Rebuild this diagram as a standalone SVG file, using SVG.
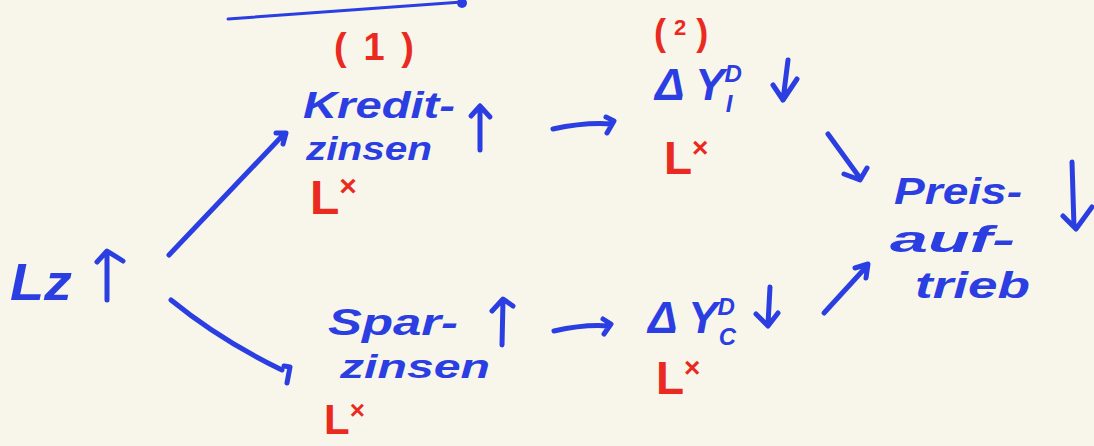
<svg xmlns="http://www.w3.org/2000/svg" width="1094" height="446" viewBox="0 0 1094 446">
<style>
.b{fill:#2b3ee2;font-family:"Liberation Sans",Arial,sans-serif;font-weight:bold;font-style:italic}
.r{fill:#ea2a20;font-family:"Liberation Sans",Arial,sans-serif;font-weight:bold}
.ln{stroke:#2b3ee2;stroke-width:5;fill:none;stroke-linecap:round;stroke-linejoin:round}
.thin{stroke:#2b3ee2;stroke-width:3;fill:none;stroke-linecap:round}
</style>
<rect width="1094" height="446" fill="#f8f5ea"/>
<g id="topline">
<path class="thin" d="M228 19 L462 2"/>
<circle cx="462" cy="3" r="5" fill="#2b3ee2"/>
</g>
<g id="lz">
<text class="b" x="10" y="300" font-size="52" textLength="62" lengthAdjust="spacingAndGlyphs">Lz</text>
<path class="ln" d="M107 300 L107 252 M97 262 L107 251 L123 261"/>
</g>
<g id="kredit">
<text class="r" x="334" y="60" font-size="38" font-weight="normal" textLength="80" lengthAdjust="spacing">(1)</text>
<text class="b" x="303" y="118" font-size="36" textLength="152" lengthAdjust="spacingAndGlyphs">Kredit-</text>
<text class="b" x="306" y="160" font-size="34" textLength="126" lengthAdjust="spacingAndGlyphs">zinsen</text>
<path class="ln" d="M480 150 L480 107 M471 116 L480 106 M480 106 L490 117"/>
<text class="r" x="310" y="214" font-size="48">L<tspan font-size="30" dy="-18">×</tspan></text>
</g>
<g id="ydi">
<text class="r" x="654" y="45" font-size="36" font-weight="normal">(<tspan font-size="22" dy="-10" dx="8">2</tspan><tspan dy="10" dx="10">)</tspan></text>
<text class="b" x="655" y="100" font-size="44">Δ Y<tspan font-size="24" dy="-18">D</tspan><tspan font-size="24" dx="-16" dy="30">I</tspan></text>
<path class="ln" d="M788 60 L783 100 M773 85 L783 100 L797 79"/>
<text class="r" x="664" y="174" font-size="46">L<tspan font-size="28" dy="-17">×</tspan></text>
</g>
<g id="spar">
<text class="b" x="328" y="335" font-size="36" textLength="130" lengthAdjust="spacingAndGlyphs">Spar-</text>
<text class="b" x="340" y="378" font-size="34" textLength="150" lengthAdjust="spacingAndGlyphs">zinsen</text>
<path class="ln" d="M502 345 L503 300 M492 311 L503 299 L513 306"/>
<text class="r" x="324" y="434" font-size="42">L<tspan font-size="26" dy="-15">×</tspan></text>
</g>
<g id="ydc">
<text class="b" x="648" y="333" font-size="44">Δ Y<tspan font-size="24" dy="-18">D</tspan><tspan font-size="24" dx="-16" dy="30">C</tspan></text>
<path class="ln" d="M770 287 L768 324 M756 314 L768 326 L778 313"/>
<text class="r" x="656" y="394" font-size="46">L<tspan font-size="28" dy="-17">×</tspan></text>
</g>
<g id="preis">
<text class="b" x="894" y="204" font-size="36" textLength="128" lengthAdjust="spacingAndGlyphs">Preis-</text>
<text class="b" x="890" y="252" font-size="36" textLength="125" lengthAdjust="spacingAndGlyphs">auf-</text>
<text class="b" x="915" y="298" font-size="36" textLength="115" lengthAdjust="spacingAndGlyphs">trieb</text>
<path class="ln" d="M1072 162 L1074 227 M1063 216 L1076 229 L1092 207"/>
</g>
<g id="connectors">
<path class="ln" d="M169 255 L284 134 M276 133 L286 133 L283 144"/>
<path class="ln" d="M171 300 Q220 340 282 370 M284 366 L290 367 L287 383"/>
<path class="ln" d="M553 129 Q585 122 612 124 M606 117 L614 121 L607 133"/>
<path class="ln" d="M554 331 Q585 324 609 326 M603 319 L611 324 L604 334"/>
<path class="ln" d="M828 134 L860 178 M844 174 L860 180 L867 168"/>
<path class="ln" d="M824 313 L867 266 M855 268 L868 264 L866 278"/>
</g>
</svg>
